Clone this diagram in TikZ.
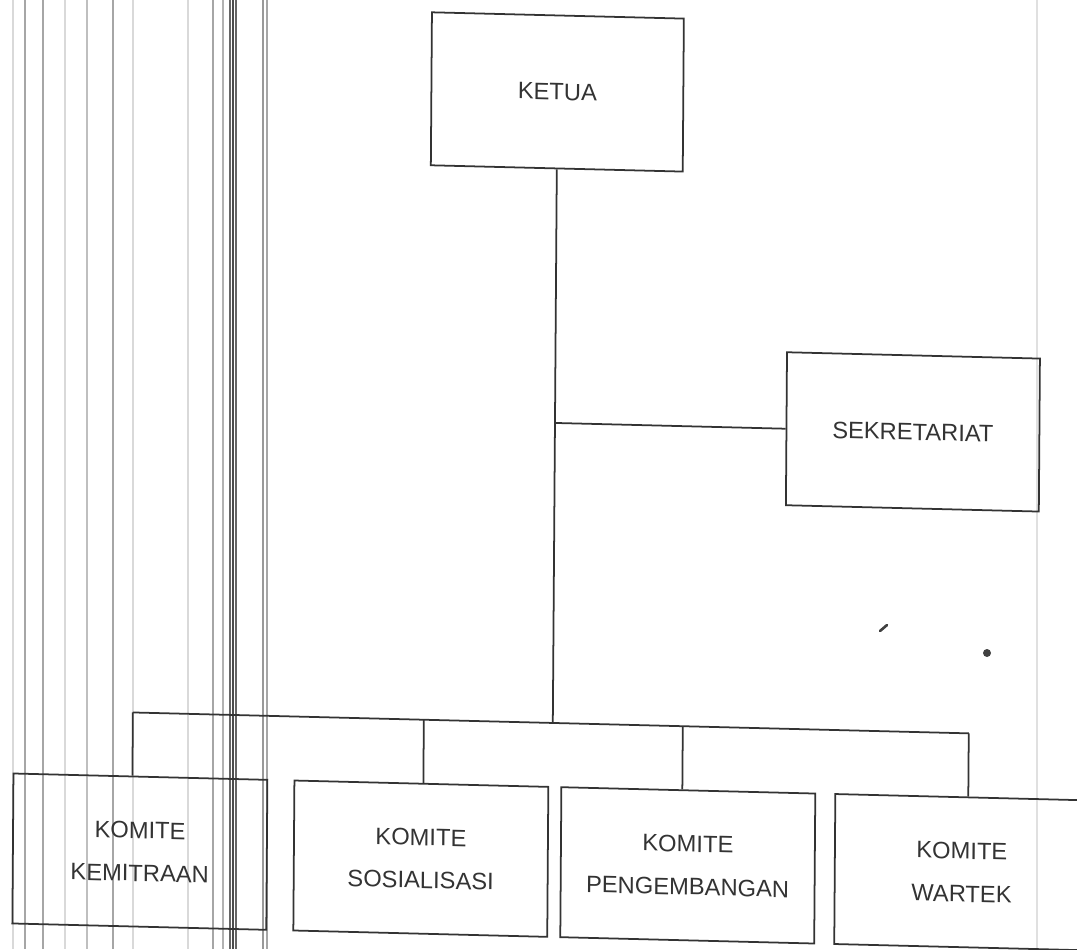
\documentclass[tikz,border=0pt]{standalone}
\usepackage{fontspec}
\setmainfont{Liberation Sans}
\usetikzlibrary{positioning}

\tikzset{
  jabatan/.style={draw=black!80, line width=1pt, text=black!80, align=center,
    font=\fontsize{13.5}{24.4}\selectfont, minimum width=5.06cm, minimum height=3.06cm},
  komite/.style={jabatan, minimum width=5.08cm, minimum height=3cm},
  garis/.style={draw=black!80, line width=1pt},
}

\begin{document}
\begin{tikzpicture}[x=0.02cm, y=-0.02cm]
\useasboundingbox (0,0) rectangle (1077,949);
\clip (0,0) rectangle (1077,949);
% scan streaks
\foreach \x/\g in {13/15, 25/35, 43/35, 65/15, 87/25, 113/35, 133/15, 188/15, 213/35,
    223/30, 230/60, 233/70, 236/60, 263/40, 267/35, 1037/12}
  \draw[black!\g, line width=0.6pt] (\x,0) -- (\x,949);
\fill[black!75] (987,653) circle (4);
\draw[black!75, line width=1.5pt, line cap=round] (880,631) -- (887,625);

\begin{scope}[xslant=0.0072, yslant=-0.025, transform shape]
\node[jabatan, minimum width=5.04cm] (ketua) at (558,78) {KETUA};
\node[jabatan] (sekretariat) at (916,409) {SEKRETARIAT};

\node[komite] (kemitraan)    at (146,848) {KOMITE\\KEMITRAAN};
\node[komite] (sosialisasi)  at (427,848) {KOMITE\\SOSIALISASI};
\node[komite] (pengembangan) at (694,848) {KOMITE\\PENGEMBANGAN};
\node[komite] (wartek)       at (968,848) {KOMITE\\WARTEK};

\coordinate (cabang) at (558,409);
\coordinate (bus)    at (558,709);
\coordinate (b1) at (138,709);
\coordinate (b2) at (429,709);
\coordinate (b3) at (688,709);
\coordinate (b4) at (974,709);

\draw[garis] (ketua.south) -- (cabang) -- (bus);
\draw[garis] (cabang) -- (sekretariat.west);
\draw[garis] (b1) -- (b4);
\foreach \b/\k in {b1/kemitraan, b2/sosialisasi, b3/pengembangan, b4/wartek}
  \draw[garis] (\b) -- (\b |- \k.north);
\end{scope}
\end{tikzpicture}
\end{document}
